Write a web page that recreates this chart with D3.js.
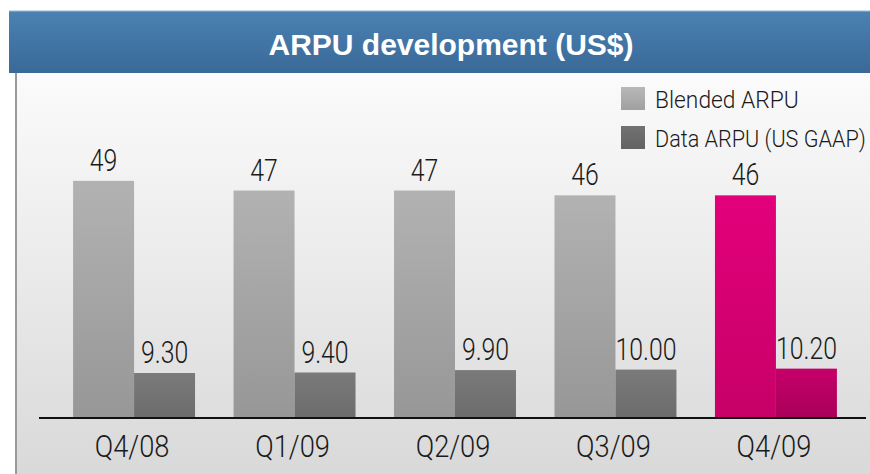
<!DOCTYPE html>
<html>
<head>
<meta charset="utf-8">
<script src="https://cdn.jsdelivr.net/npm/d3@7"></script>
<style>
  body { margin: 0; background: #fff; }
  svg { display: block; }
</style>
</head>
<body>
<div id="chart-area"></div>
<script>
// Data
var quarters   = ["Q4/08", "Q1/09", "Q2/09", "Q3/09", "Q4/09"];
var blended    = [49, 47, 47, 46, 46];
var dataArpu   = [9.30, 9.40, 9.90, 10.00, 10.20];
var seriesKeys = ["blended", "data"];
var seriesNames = ["Blended ARPU", "Data ARPU (US GAAP)"];
var title = "ARPU development (US$)";

var W = 870, H = 474;
var baseY = 418;
var titleFont = "'Liberation Sans', Arial, sans-serif";
var font = "Roboto, 'Liberation Sans', Arial, sans-serif";

var svg = d3.select("#chart-area").append("svg")
  .attr("width", W).attr("height", H);

var defs = svg.append("defs");

function vGrad(id, top, bottom) {
  var g = defs.append("linearGradient").attr("id", id)
    .attr("x1", 0).attr("y1", 0).attr("x2", 0).attr("y2", 1);
  g.append("stop").attr("offset", "0%").attr("stop-color", top);
  g.append("stop").attr("offset", "100%").attr("stop-color", bottom);
}
vGrad("bg", "#fbfbfb", "#d9d9d9");
vGrad("titleBar", "#4b81b3", "#396997");
vGrad("grayLight", "#b2b2b2", "#979797");
vGrad("grayDark", "#7a7a7a", "#6c6c6c");
vGrad("pinkLight", "#e3007b", "#c70068");
vGrad("pinkDark", "#c6006a", "#a9005a");
vGrad("legLight", "#b8b8b8", "#a0a0a0");
vGrad("legDark", "#727272", "#626262");

// Panel background and left border
svg.append("rect").attr("x", 15).attr("y", 73).attr("width", W - 15).attr("height", H - 73)
  .attr("fill", "url(#bg)");
svg.append("line").attr("x1", 16).attr("x2", 16).attr("y1", 73).attr("y2", H)
  .attr("stroke", "#9a9a9a").attr("stroke-width", 2);

// Title bar
svg.append("rect").attr("x", 9).attr("y", 11).attr("width", W - 9).attr("height", 62)
  .attr("fill", "url(#titleBar)");
svg.append("line").attr("x1", 9).attr("x2", W).attr("y1", 11).attr("y2", 11)
  .attr("stroke", "#9fb8d0").attr("stroke-width", 1);
svg.append("text")
  .attr("x", 451).attr("y", 55)
  .attr("text-anchor", "middle")
  .attr("font-family", titleFont).attr("font-weight", "bold")
  .attr("font-size", "30px").attr("fill", "#fff")
  .text(title);

// Scales
var x = d3.scaleBand()
  .domain(quarters)
  .range([41, 869])
  .paddingInner(0.24)
  .paddingOuter(0.2);

var x1 = d3.scaleBand()
  .domain(seriesKeys)
  .range([0, x.bandwidth()]);

var y = d3.scaleLinear()
  .domain([0, 50])
  .range([baseY, baseY - 242]);

var rows = quarters.map(function(q, i) {
  return { q: q, i: i, values: [
    { key: "blended", v: blended[i], label: String(blended[i]) },
    { key: "data", v: dataArpu[i], label: dataArpu[i].toFixed(2) }
  ]};
});

function fillFor(d, i) {
  var last = i === quarters.length - 1;
  if (d.key === "blended") return last ? "url(#pinkLight)" : "url(#grayLight)";
  return last ? "url(#pinkDark)" : "url(#grayDark)";
}

var groups = svg.selectAll("g.grp").data(rows).enter().append("g")
  .attr("class", "grp")
  .attr("transform", function(d) { return "translate(" + x(d.q) + ",0)"; });

groups.selectAll("rect").data(function(d) {
    return d.values.map(function(v) { return Object.assign({ gi: d.i }, v); });
  })
  .enter().append("rect")
  .attr("x", function(d) { return x1(d.key); })
  .attr("width", x1.bandwidth())
  .attr("y", function(d) { return y(d.v); })
  .attr("height", function(d) { return baseY - y(d.v); })
  .attr("fill", function(d) { return fillFor(d, d.gi); });

// value labels, squeezed horizontally to mimic the condensed face
groups.selectAll("text.val").data(function(d) { return d.values; })
  .enter().append("text")
  .attr("class", "val")
  .attr("transform", function(d) {
    return "translate(" + (x1(d.key) + x1.bandwidth() / 2) + "," + (y(d.v) - 10) + ") scale(0.8,1)";
  })
  .attr("text-anchor", "middle")
  .attr("font-family", font).attr("font-weight", 300)
  .attr("font-size", "31px").attr("fill", "#1a1a1a")
  .text(function(d) { return d.label; });

// X axis baseline and labels
var xAxis = d3.axisBottom(x).tickSize(0).tickPadding(17);
var axisG = svg.append("g")
  .attr("transform", "translate(-2," + baseY + ")")
  .call(xAxis);
axisG.select(".domain").remove();
axisG.selectAll("text")
  .attr("transform", "scale(0.88,1)")
  .attr("font-family", font).attr("font-weight", 300)
  .attr("font-size", "31px").attr("fill", "#1a1a1a");
svg.append("line")
  .attr("x1", 39).attr("x2", 866).attr("y1", baseY).attr("y2", baseY)
  .attr("stroke", "#111").attr("stroke-width", 2);

// Legend
var legend = svg.append("g").attr("transform", "translate(621,87)");
var legFills = ["url(#legLight)", "url(#legDark)"];
seriesNames.forEach(function(name, i) {
  var row = legend.append("g").attr("transform", "translate(0," + (i * 39) + ")");
  row.append("rect").attr("width", 24).attr("height", 23).attr("fill", legFills[i]);
  row.append("text").attr("transform", "translate(34,21) scale(" + (i ? 0.9 : 0.95) + ",1)")
    .attr("font-family", font).attr("font-weight", 300)
    .attr("font-size", "24px").attr("fill", "#1a1a1a")
    .text(name);
});
</script>
</body>
</html>
